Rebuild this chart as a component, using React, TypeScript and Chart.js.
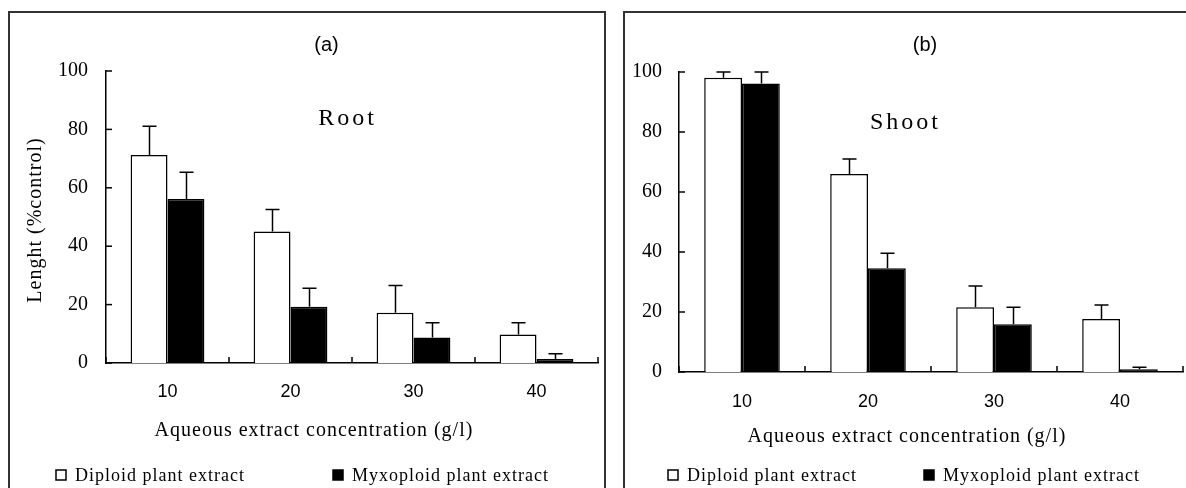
import React, { useEffect, useRef } from "react";
import { Chart, registerables } from "chart.js";

Chart.register(...registerables);

// ---------- data ----------
const categories = ["10", "20", "30", "40"];
const yTickValues = [0, 20, 40, 60, 80, 100];
const seriesNames = ["Diploid plant extract", "Myxoploid plant extract"];

// (a) Root
const rootDiploid = [71.2, 45.0, 17.2, 9.8];
const rootDiploidErr = [9.9, 7.6, 9.3, 4.0];
const rootMyxoploid = [56.2, 19.3, 8.7, 1.4];
const rootMyxoploidErr = [9.1, 6.3, 5.1, 1.8];

// (b) Shoot
const shootDiploid = [98.1, 66.0, 21.6, 17.7];
const shootDiploidErr = [1.9, 5.0, 7.1, 4.6];
const shootMyxoploid = [96.2, 34.6, 15.9, 0.9];
const shootMyxoploidErr = [3.8, 5.0, 5.7, 0.7];

const xAxisTitle = "Aqueous extract concentration (g/l)";
const yAxisTitle = "Lenght (%control)";

// ---------- layout (canvas coordinates) ----------
type Layout = {
  canvasLeft: number;
  canvasTop: number;
  width: number;
  height: number;
  area: { left: number; right: number; top: number; bottom: number };
  panelLabel: [number, number];
  organLabel: [number, number];
  xTitle: [number, number];
  yTitle: [number, number] | null;
  legendWhite: [number, number];
  legendBlack: [number, number];
  yTickPad: number;
  xTickPad: number;
};

const layoutA: Layout = {
  canvasLeft: 10,
  canvasTop: 14,
  width: 594,
  height: 474,
  area: { left: 96, right: 588, top: 57, bottom: 349 },
  panelLabel: [316.5, 31],
  organLabel: [337.5, 105],
  xTitle: [304, 417],
  yTitle: [26, 206],
  legendWhite: [46, 461],
  legendBlack: [323, 461],
  yTickPad: 10,
  xTickPad: 10,
};

const layoutB: Layout = {
  canvasLeft: 626,
  canvasTop: 14,
  width: 560,
  height: 474,
  area: { left: 53, right: 557, top: 58, bottom: 358 },
  panelLabel: [299, 31],
  organLabel: [279.5, 109],
  xTitle: [281, 423],
  yTitle: null,
  legendWhite: [42, 461],
  legendBlack: [298, 461],
  yTickPad: 9,
  xTickPad: 11,
};

const SERIF = "'Liberation Serif', 'Times New Roman', serif";
const SANS = "'Liberation Sans', Arial, sans-serif";

const decorPlugin = {
  id: "decor",
  afterDatasetsDraw(chart: any, _args: any, opts: any) {
    const ctx: CanvasRenderingContext2D = chart.ctx;
    const ys = chart.scales.y;
    ctx.save();
    ctx.strokeStyle = "#000";
    ctx.lineWidth = 1.5;
    (opts.errors as number[][]).forEach((errs, di) => {
      const meta = chart.getDatasetMeta(di);
      const vals = chart.data.datasets[di].data as number[];
      meta.data.forEach((el: any, j: number) => {
        const top = ys.getPixelForValue(vals[j] + errs[j]);
        const x = Math.round(el.x) + 0.5;
        ctx.beginPath();
        ctx.moveTo(x, el.y);
        ctx.lineTo(x, top);
        ctx.moveTo(x - 7, top);
        ctx.lineTo(x + 7, top);
        ctx.stroke();
      });
    });
    ctx.restore();
  },
  afterDraw(chart: any, _args: any, opts: any) {
    const ctx: CanvasRenderingContext2D = chart.ctx;
    const xs = chart.scales.x;
    const ys = chart.scales.y;
    const area = chart.chartArea;
    ctx.save();
    ctx.strokeStyle = "#000";
    ctx.lineWidth = 1.5;
    // inward y ticks
    ys.ticks.forEach((t: any) => {
      const py = ys.getPixelForValue(t.value);
      ctx.beginPath();
      ctx.moveTo(area.left, py);
      ctx.lineTo(area.left + 6, py);
      ctx.stroke();
    });
    // inward x ticks at category boundaries
    const n = chart.data.labels.length;
    for (let i = 0; i <= n; i++) {
      const px = xs.getPixelForValue(i - 0.5);
      ctx.beginPath();
      ctx.moveTo(px, area.bottom);
      ctx.lineTo(px, area.bottom - 6);
      ctx.stroke();
    }

    const L: Layout = opts.layout;
    ctx.fillStyle = "#000";
    ctx.textBaseline = "middle";
    const anyCtx = ctx as any;

    // panel label
    ctx.textAlign = "center";
    ctx.font = `20px ${SANS}`;
    anyCtx.letterSpacing = "0px";
    ctx.fillText(opts.panelLabel, L.panelLabel[0], L.panelLabel[1]);

    // organ label
    ctx.font = `24px ${SERIF}`;
    anyCtx.letterSpacing = "3px";
    ctx.fillText(opts.organ, L.organLabel[0], L.organLabel[1]);

    // x title
    ctx.font = `20px ${SERIF}`;
    anyCtx.letterSpacing = "1px";
    ctx.fillText(xAxisTitle, L.xTitle[0], L.xTitle[1]);

    // y title
    if (L.yTitle) {
      ctx.save();
      ctx.translate(L.yTitle[0], L.yTitle[1]);
      ctx.rotate(-Math.PI / 2);
      ctx.fillText(yAxisTitle, 0, 0);
      ctx.restore();
    }

    // legend
    ctx.font = `18px ${SERIF}`;
    anyCtx.letterSpacing = "1px";
    ctx.textAlign = "left";
    const ds = chart.data.datasets;
    const items: [number, number][] = [L.legendWhite, L.legendBlack];
    items.forEach(([lx, ly], i) => {
      ctx.lineWidth = 1.5;
      ctx.fillStyle = ds[i].backgroundColor;
      ctx.fillRect(lx, ly - 5, 10, 10);
      ctx.strokeStyle = "#000";
      ctx.strokeRect(lx, ly - 5, 10, 10);
      ctx.fillStyle = "#000";
      ctx.fillText(ds[i].label, lx + 19, ly + 1);
    });
    ctx.restore();
  },
};

function Panel(props: {
  layout: Layout;
  panelLabel: string;
  organ: string;
  diploid: number[];
  diploidErr: number[];
  myxo: number[];
  myxoErr: number[];
}) {
  const ref = useRef<HTMLCanvasElement>(null);
  const { layout: L } = props;
  useEffect(() => {
    if (!ref.current) return;
    const chart = new Chart(ref.current, {
      type: "bar",
      data: {
        labels: categories,
        datasets: [
          {
            label: seriesNames[0],
            data: props.diploid,
            backgroundColor: "#ffffff",
            borderColor: "#000000",
            borderWidth: 1.5,
          },
          {
            label: seriesNames[1],
            data: props.myxo,
            backgroundColor: "#000000",
            borderColor: "#000000",
            borderWidth: 1.5,
          },
        ],
      },
      options: {
        animation: false,
        responsive: false,
        maintainAspectRatio: false,
        datasets: { bar: { barPercentage: 1, categoryPercentage: 0.6 } },
        layout: {
          padding: {
            left: 0,
            top: L.area.top,
            right: L.width - L.area.right,
            bottom: 0,
          },
        },
        scales: {
          x: {
            type: "category",
            grid: { display: false },
            border: { display: true, color: "#000", width: 1.5 },
            ticks: {
              color: "#000",
              font: { family: SANS, size: 18 },
              padding: L.xTickPad,
              maxRotation: 0,
            },
            afterFit: (s: any) => {
              s.height = L.height - L.area.bottom;
            },
          },
          y: {
            min: 0,
            max: 100,
            afterBuildTicks: (s: any) => {
              s.ticks = yTickValues.map((v) => ({ value: v }));
            },
            grid: { display: false },
            border: { display: true, color: "#000", width: 1.5 },
            ticks: {
              color: "#000",
              font: { family: SERIF, size: 20 },
              padding: L.yTickPad,
            },
            afterFit: (s: any) => {
              s.width = L.area.left;
            },
          },
        },
        plugins: {
          legend: { display: false },
          tooltip: { enabled: false },
          title: { display: false },
          decor: {
            errors: [props.diploidErr, props.myxoErr],
            layout: L,
            panelLabel: props.panelLabel,
            organ: props.organ,
          },
        } as any,
      },
      plugins: [decorPlugin],
    } as any);
    return () => chart.destroy();
  }, []);
  return (
    <canvas
      ref={ref}
      width={L.width}
      height={L.height}
      style={{
        position: "absolute",
        left: L.canvasLeft,
        top: L.canvasTop,
        width: L.width,
        height: L.height,
      }}
    />
  );
}

export default function App() {
  return (
    <div
      style={{
        position: "fixed",
        left: 0,
        top: 0,
        width: 1186,
        height: 488,
        overflow: "hidden",
        background: "#fff",
      }}
    >
      <div
        style={{
          position: "absolute",
          left: 8,
          top: 11,
          width: 598,
          height: 520,
          border: "2px solid #333",
          boxSizing: "border-box",
        }}
      />
      <div
        style={{
          position: "absolute",
          left: 623,
          top: 11,
          width: 620,
          height: 520,
          border: "2px solid #333",
          boxSizing: "border-box",
        }}
      />
      <Panel
        layout={layoutA}
        panelLabel="(a)"
        organ="Root"
        diploid={rootDiploid}
        diploidErr={rootDiploidErr}
        myxo={rootMyxoploid}
        myxoErr={rootMyxoploidErr}
      />
      <Panel
        layout={layoutB}
        panelLabel="(b)"
        organ="Shoot"
        diploid={shootDiploid}
        diploidErr={shootDiploidErr}
        myxo={shootMyxoploid}
        myxoErr={shootMyxoploidErr}
      />
    </div>
  );
}
